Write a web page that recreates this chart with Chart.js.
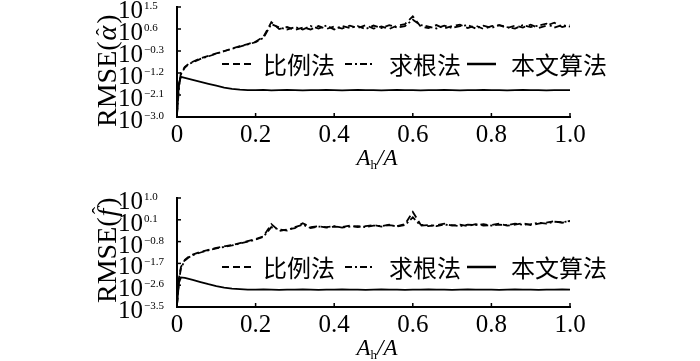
<!DOCTYPE html>
<html>
<head>
<meta charset="utf-8">
<script src="https://cdn.jsdelivr.net/npm/chart.js@4.4.0/dist/chart.umd.min.js"></script>
<style>
  body { margin: 0; background: #fff; width: 700px; height: 361px; overflow: hidden; position: relative; }
  canvas { position: absolute; left: 0; }
  #top { top: 0; }
  #bottom { top: 170px; }
</style>
</head>
<body>
<canvas id="top" width="700" height="170"></canvas>
<canvas id="bottom" width="700" height="191"></canvas>
<script>
// A_h/A sample positions
var xs = [0, 0.005, 0.01, 0.02, 0.03, 0.04,
  0.06, 0.08, 0.10, 0.12, 0.14, 0.16, 0.18, 0.20, 0.22, 0.24,
  0.26, 0.28, 0.30, 0.32, 0.34, 0.36, 0.38, 0.40, 0.42, 0.44,
  0.46, 0.48, 0.50, 0.52, 0.54, 0.56, 0.58, 0.60, 0.62, 0.64,
  0.66, 0.68, 0.70, 0.72, 0.74, 0.76, 0.78, 0.80, 0.82, 0.84,
  0.86, 0.88, 0.90, 0.92, 0.94, 0.96, 0.98, 1.00];

// log10 of RMSE(alpha)
var alphaRatio = [-2.8, -1.7, -1.2, -0.95, -0.82, -0.74,
  -0.6, -0.5, -0.4, -0.3, -0.2, -0.1, -0.02, 0.08, 0.28, 0.88,
  0.6, 0.68, 0.56, 0.66, 0.58, 0.72, 0.6, 0.7, 0.62, 0.74,
  0.64, 0.76, 0.62, 0.7, 0.6, 0.74, 0.8, 1.12, 0.7, 0.64,
  0.76, 0.62, 0.72, 0.78, 0.64, 0.74, 0.6, 0.72, 0.76, 0.64,
  0.74, 0.66, 0.78, 0.64, 0.74, 0.86, 0.68, 0.76];
var alphaRoot = [-2.9, -1.8, -1.25, -0.98, -0.84, -0.76,
  -0.62, -0.52, -0.41, -0.31, -0.21, -0.12, -0.03, 0.06, 0.24, 0.8,
  0.66, 0.58, 0.68, 0.58, 0.72, 0.62, 0.74, 0.58, 0.72, 0.64,
  0.72, 0.6, 0.74, 0.64, 0.76, 0.66, 0.72, 0.98, 0.76, 0.7,
  0.62, 0.74, 0.64, 0.72, 0.76, 0.62, 0.74, 0.64, 0.76, 0.68,
  0.62, 0.76, 0.68, 0.74, 0.82, 0.66, 0.76, 0.7];
var alphaOurs = [-2.9, -1.6, -1.36, -1.4, -1.44, -1.48,
  -1.56, -1.64, -1.72, -1.8, -1.85, -1.88, -1.9, -1.9, -1.89, -1.91,
  -1.9, -1.89, -1.9, -1.91, -1.9, -1.9, -1.89, -1.9, -1.91, -1.9,
  -1.89, -1.9, -1.9, -1.91, -1.9, -1.89, -1.9, -1.9, -1.91, -1.9,
  -1.9, -1.89, -1.9, -1.91, -1.9, -1.9, -1.89, -1.9, -1.9, -1.91,
  -1.9, -1.89, -1.9, -1.9, -1.91, -1.9, -1.9, -1.9];

// log10 of RMSE(f)
var fRatio = [-3.4, -2.3, -1.85, -1.55, -1.42, -1.34,
  -1.22, -1.14, -1.06, -1.0, -0.94, -0.86, -0.78, -0.7, -0.58, -0.08,
  -0.36, -0.3, -0.24, -0.04, -0.2, -0.16, -0.22, -0.18, -0.2, -0.14,
  -0.2, -0.16, -0.12, -0.18, -0.12, -0.16, -0.08, 0.42, -0.1, -0.16,
  -0.12, -0.06, -0.14, -0.1, -0.16, -0.08, -0.14, -0.12, -0.06, -0.14,
  -0.1, -0.04, -0.12, -0.06, -0.02, 0.04, -0.02, 0.06];
var fRoot = [-3.4, -2.4, -1.9, -1.58, -1.45, -1.36,
  -1.25, -1.16, -1.08, -1.02, -0.96, -0.88, -0.8, -0.72, -0.6, -0.2,
  -0.3, -0.34, -0.2, -0.1, -0.24, -0.18, -0.2, -0.16, -0.22, -0.18,
  -0.16, -0.2, -0.14, -0.16, -0.1, -0.18, -0.12, 0.2, -0.14, -0.12,
  -0.16, -0.1, -0.12, -0.16, -0.1, -0.12, -0.08, -0.14, -0.1, -0.12,
  -0.06, -0.1, -0.08, -0.02, -0.06, 0.02, 0.0, 0.04];
var fOurs = [-3.4, -2.5, -2.28, -2.3, -2.34, -2.38,
  -2.47, -2.56, -2.64, -2.7, -2.74, -2.76, -2.78, -2.78, -2.77, -2.78,
  -2.79, -2.78, -2.78, -2.77, -2.78, -2.79, -2.78, -2.78, -2.77, -2.78,
  -2.78, -2.79, -2.78, -2.77, -2.78, -2.78, -2.79, -2.78, -2.78, -2.77,
  -2.78, -2.78, -2.79, -2.78, -2.77, -2.78, -2.78, -2.78, -2.79, -2.78,
  -2.77, -2.78, -2.78, -2.79, -2.78, -2.78, -2.77, -2.78];

// tick exponents and x tick labels
var alphaTicks = [1.5, 0.6, -0.3, -1.2, -2.1, -3.0];
var fTicks = [1.0, 0.1, -0.8, -1.7, -2.6, -3.5];
var xTickValues = [0, 0.2, 0.4, 0.6, 0.8, 1.0];
var xTickLabels = ['0', '0.2', '0.4', '0.6', '0.8', '1.0'];
var seriesNames = ['比例法', '求根法', '本文算法'];

var SERIF = '"Liberation Serif", "Times New Roman", serif';
var CJK = '"Noto Sans CJK SC", sans-serif';
var dashes = [[7, 4], [7, 3, 2, 3], []];

function toPoints(arr) {
  return xs.map(function (x, i) { return { x: x, y: arr[i] }; });
}

function decor(yTicks, symbol, titleStart, legendY) {
  return {
    id: 'decor',
    afterDraw: function (chart) {
      var ctx = chart.ctx, sx = chart.scales.x, sy = chart.scales.y, a = chart.chartArea;
      ctx.save();
      ctx.strokeStyle = '#000';
      ctx.fillStyle = '#000';
      ctx.lineWidth = 1.5;
      ctx.setLineDash([]);

      // y ticks + labels 10^e
      yTicks.forEach(function (e) {
        var py = sy.getPixelForValue(e);
        ctx.beginPath(); ctx.moveTo(a.left, py); ctx.lineTo(a.left + 4, py); ctx.stroke();
        ctx.textBaseline = 'alphabetic';
        ctx.font = '25px ' + SERIF;
        ctx.textAlign = 'right';
        ctx.fillText('10', 143, py + 11);
        ctx.font = '11px ' + SERIF;
        ctx.textAlign = 'left';
        ctx.fillText(e.toFixed(1).replace('-', '\u2212'), 144, py + 2);
      });

      // x ticks + labels
      ctx.font = '25px ' + SERIF;
      ctx.textAlign = 'center';
      xTickValues.forEach(function (v, i) {
        var px = sx.getPixelForValue(v);
        if (i > 0) { ctx.beginPath(); ctx.moveTo(px, a.bottom); ctx.lineTo(px, a.bottom - 4); ctx.stroke(); }
        ctx.fillText(xTickLabels[i], px, a.bottom + 25);
      });

      // x title A_h/A
      var bx = 377, by = a.bottom + 48;
      ctx.textAlign = 'left';
      ctx.font = 'italic 23px ' + SERIF;
      var wA = ctx.measureText('A').width;
      ctx.font = '13px ' + SERIF;
      var wh = ctx.measureText('h').width;
      ctx.font = 'italic 23px ' + SERIF;
      var wS = ctx.measureText('/A').width;
      var x0 = bx - (wA + wh + wS) / 2;
      ctx.fillText('A', x0, by);
      ctx.font = '13px ' + SERIF;
      ctx.fillText('h', x0 + wA, by + 4);
      ctx.font = 'italic 23px ' + SERIF;
      ctx.fillText('/A', x0 + wA + wh, by);

      // y title RMSE(^)
      ctx.save();
      ctx.translate(116, titleStart);
      ctx.rotate(-Math.PI / 2);
      ctx.font = '28px ' + SERIF;
      var w1 = ctx.measureText('RMSE(').width;
      ctx.fillText('RMSE(', 0, 0);
      ctx.font = 'italic 28px ' + SERIF;
      var ws = ctx.measureText(symbol).width;
      ctx.fillText(symbol, w1 + 1, 0);
      ctx.font = '22px ' + SERIF;
      ctx.textAlign = 'center';
      ctx.fillText('\u02C6', w1 + 1 + ws / 2 + (symbol === 'f' ? 2 : 1), symbol === 'f' ? -9 : -5);
      ctx.textAlign = 'left';
      ctx.font = '28px ' + SERIF;
      ctx.fillText(')', w1 + ws + 3, 0);
      ctx.restore();

      // legend
      var samples = [[222, 252], [345, 375], [467, 496]];
      var textX = [263, 389, 511];
      ctx.font = '24px ' + CJK;
      ctx.textBaseline = 'middle';
      ctx.textAlign = 'left';
      seriesNames.forEach(function (name, i) {
        ctx.setLineDash(dashes[i]);
        ctx.lineWidth = i === 2 ? 2.5 : 2;
        ctx.beginPath();
        ctx.moveTo(samples[i][0], legendY);
        ctx.lineTo(samples[i][1], legendY);
        ctx.stroke();
        ctx.setLineDash([]);
        ctx.fillText(name, textX[i], legendY + 1);
      });
      ctx.restore();
    }
  };
}

function makeChart(id, data, yTicks, symbol, pad, titleStart, legendY) {
  return new Chart(document.getElementById(id), {
    type: 'line',
    data: {
      datasets: data.map(function (arr, i) {
        return {
          label: seriesNames[i],
          data: toPoints(arr),
          borderColor: '#000',
          borderWidth: 1.8,
          borderDash: dashes[i],
          pointRadius: 0,
          fill: false,
          tension: 0
        };
      })
    },
    options: {
      responsive: false,
      animation: false,
      devicePixelRatio: 1,
      layout: { padding: pad },
      plugins: { legend: { display: false }, tooltip: { enabled: false } },
      scales: {
        x: {
          type: 'linear', min: 0, max: 1,
          ticks: { display: false },
          grid: { display: false },
          border: { display: true, color: '#000', width: 2 },
          afterFit: function (s) { s.height = 0; }
        },
        y: {
          type: 'linear', min: yTicks[yTicks.length - 1], max: yTicks[0],
          ticks: { display: false },
          grid: { display: false },
          border: { display: true, color: '#000', width: 2 },
          afterFit: function (s) { s.width = 0; }
        }
      }
    },
    plugins: [decor(yTicks, symbol, titleStart, legendY)]
  });
}

makeChart('top', [alphaRatio, alphaRoot, alphaOurs], alphaTicks, '\u03B1',
  { left: 177, right: 130, top: 7, bottom: 53 }, 127, 64);
makeChart('bottom', [fRatio, fRoot, fOurs], fTicks, 'f',
  { left: 177, right: 130, top: 28, bottom: 54 }, 133, 97);
</script>
</body>
</html>
